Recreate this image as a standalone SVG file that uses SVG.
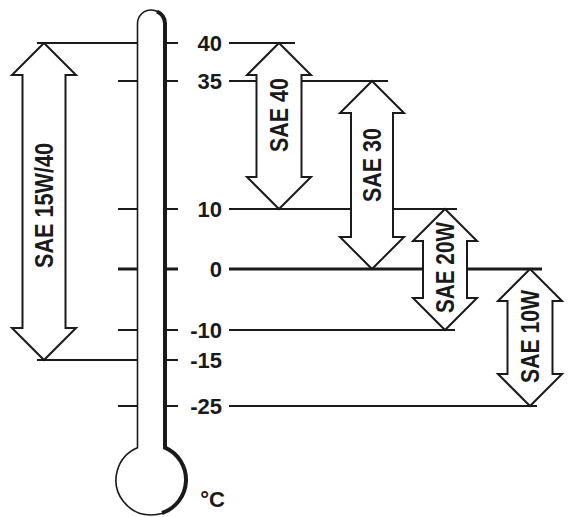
<svg xmlns="http://www.w3.org/2000/svg" width="568" height="517" viewBox="0 0 568 517">
  <style>
    .ln { stroke: #1a1a1a; stroke-width: 2; fill: none; }
    .thick { stroke-width: 3; }
    .arrow { fill: #ffffff; stroke: #1a1a1a; stroke-width: 2; stroke-linejoin: miter; }
    .lbl { font-family: "Liberation Sans", Arial, sans-serif; font-weight: bold; font-size: 22px; fill: #1a1a1a; text-anchor: end; }
    .sae { font-family: "Liberation Sans", Arial, sans-serif; font-weight: bold; font-size: 25px; fill: #1a1a1a; text-anchor: middle; }
  </style>
  <rect width="568" height="517" fill="#ffffff"/>

  <g id="connectors">
    <!-- 40 -->
    <line class="ln" x1="37" y1="43" x2="137" y2="43"/>
    <line class="ln" x1="165" y1="43" x2="178" y2="43"/>
    <line class="ln" x1="229" y1="43" x2="295" y2="43"/>
    <!-- 35 -->
    <line class="ln" x1="118" y1="81" x2="137" y2="81"/>
    <line class="ln" x1="165" y1="81" x2="178" y2="81"/>
    <line class="ln" x1="229" y1="81" x2="388" y2="81"/>
    <!-- 10 -->
    <line class="ln" x1="118" y1="209" x2="137" y2="209"/>
    <line class="ln" x1="165" y1="209" x2="178" y2="209"/>
    <line class="ln" x1="229" y1="209" x2="457" y2="209"/>
    <!-- 0 -->
    <line class="ln thick" x1="118" y1="269" x2="137" y2="269"/>
    <line class="ln thick" x1="165" y1="269" x2="178" y2="269"/>
    <line class="ln thick" x1="229" y1="269" x2="542" y2="269"/>
    <!-- -10 -->
    <line class="ln" x1="118" y1="330" x2="137" y2="330"/>
    <line class="ln" x1="165" y1="330" x2="178" y2="330"/>
    <line class="ln" x1="229" y1="330" x2="455" y2="330"/>
    <!-- -15 -->
    <line class="ln" x1="37" y1="360" x2="137" y2="360"/>
    <line class="ln" x1="165" y1="360" x2="178" y2="360"/>
    <!-- -25 -->
    <line class="ln" x1="118" y1="406" x2="137" y2="406"/>
    <line class="ln" x1="165" y1="406" x2="178" y2="406"/>
    <line class="ln" x1="229" y1="406" x2="537" y2="406"/>
  </g>

  <g id="thermometer">
    <path d="M137.5,447.7 V23.5 A13.5,13.5 0 0 1 164.5,23.5 V447.7 A35,35 0 1 1 137.5,447.7 Z" fill="#ffffff" stroke="#1a1a1a" stroke-width="1.6"/>
    <path d="M157,11.5 A13.5,13.5 0 0 1 165,23.5 V447.7 A35,35 0 0 1 162,513" fill="none" stroke="#1a1a1a" stroke-width="4"/>
  </g>

  <g id="scale-labels">
    <text class="lbl" x="222" y="51">40</text>
    <text class="lbl" x="222" y="89">35</text>
    <text class="lbl" x="222" y="217">10</text>
    <text class="lbl" x="222" y="277">0</text>
    <text class="lbl" x="222" y="338">-10</text>
    <text class="lbl" x="222" y="368">-15</text>
    <text class="lbl" x="222" y="414">-25</text>
    <text class="lbl" x="225" y="507" style="text-anchor:end">°C</text>
  </g>

  <g id="sae-15w40">
    <path class="arrow" d="M44,43 L76,75 L65.5,75 L65.5,328 L76,328 L44,360 L12,328 L22.5,328 L22.5,75 L12,75 Z"/>
    <text class="sae" transform="translate(53,205.5) rotate(-90)" textLength="125" lengthAdjust="spacingAndGlyphs">SAE 15W/40</text>
  </g>

  <g id="sae-40">
    <path class="arrow" d="M279,43 L311,75 L301.5,75 L301.5,177 L311,177 L279,209 L247,177 L256.5,177 L256.5,75 L247,75 Z"/>
    <text class="sae" transform="translate(288,115) rotate(-90)" textLength="74" lengthAdjust="spacingAndGlyphs">SAE 40</text>
  </g>

  <g id="sae-30">
    <path class="arrow" d="M372,81 L404,113 L393,113 L393,237 L404,237 L372,269 L340,237 L351,237 L351,113 L340,113 Z"/>
    <text class="sae" transform="translate(381,165) rotate(-90)" textLength="74" lengthAdjust="spacingAndGlyphs">SAE 30</text>
  </g>

  <g id="sae-20w">
    <path class="arrow" d="M445,209 L477,241 L467,241 L467,298 L477,298 L445,330 L413,298 L423,298 L423,241 L413,241 Z"/>
    <text class="sae" transform="translate(454,267.5) rotate(-90)" textLength="91" lengthAdjust="spacingAndGlyphs">SAE 20W</text>
  </g>

  <g id="sae-10w">
    <path class="arrow" d="M530,269 L562,301 L552.5,301 L552.5,374 L562,374 L530,406 L498,374 L507.5,374 L507.5,301 L498,301 Z"/>
    <text class="sae" transform="translate(539,336.5) rotate(-90)" textLength="93" lengthAdjust="spacingAndGlyphs">SAE 10W</text>
  </g>
</svg>
